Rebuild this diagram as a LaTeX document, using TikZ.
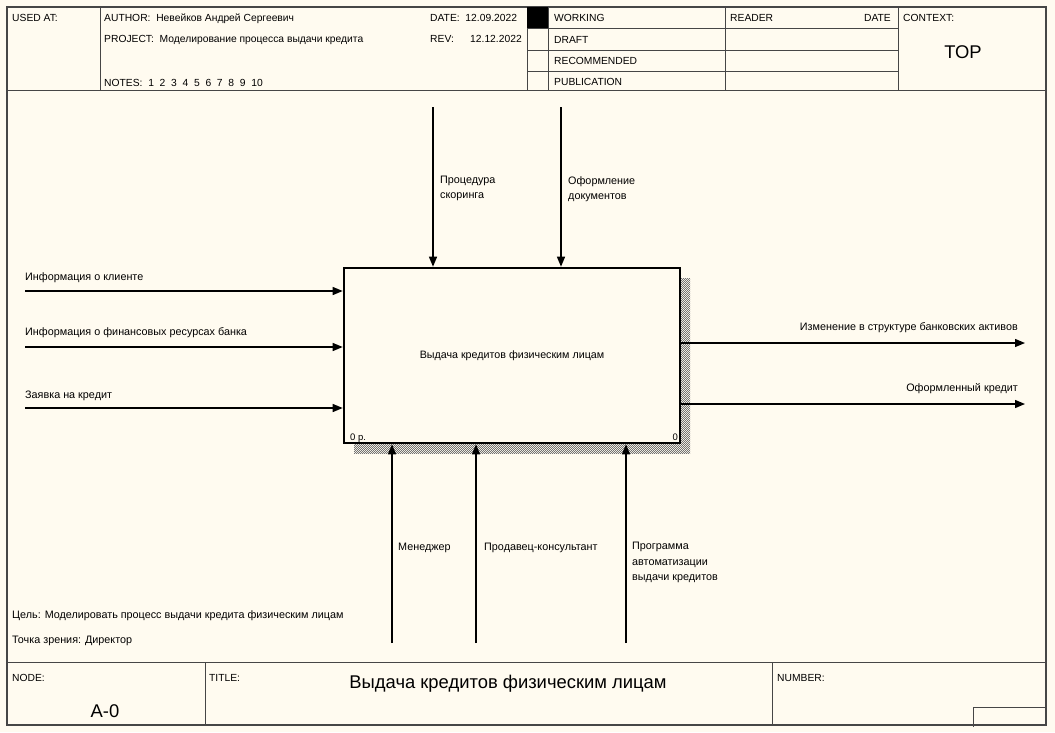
\documentclass[tikz,border=0pt]{standalone}
\usepackage{fontspec}
\setmainfont{Liberation Sans}
\usetikzlibrary{arrows.meta,patterns}
\definecolor{paper}{RGB}{255,251,240}
\definecolor{frame}{RGB}{70,70,70}
% fine checkerboard used for the box shadow
\pgfdeclarepatternformonly{checker}{\pgfqpoint{0pt}{0pt}}{\pgfqpoint{2.4pt}{2.4pt}}{\pgfqpoint{2.4pt}{2.4pt}}{%
  \pgfpathrectangle{\pgfqpoint{0pt}{0pt}}{\pgfqpoint{1.2pt}{1.2pt}}%
  \pgfpathrectangle{\pgfqpoint{1.2pt}{1.2pt}}{\pgfqpoint{1.2pt}{1.2pt}}%
  \pgfusepath{fill}}
\begin{document}
\begin{tikzpicture}[x=1pt,y=-1pt,
  lbl/.style={font=\fontsize{10.8}{12}\selectfont, inner sep=0pt},
  hdr/.style={font=\fontsize{10.3}{12}\selectfont, inner sep=0pt, anchor=base west},
  big/.style={font=\fontsize{18.4}{20}\selectfont, inner sep=0pt},
  rule/.style={draw=frame, line width=1pt},
  flow/.style={line width=1.3pt, -{Triangle[length=10pt,width=8pt]}},
  fnbox/.style={draw=black, line width=2.6pt, fill=paper, minimum width=336pt,
    minimum height=175pt, inner sep=0pt, font=\fontsize{10.7}{12}\selectfont}]
\useasboundingbox (0,0) rectangle (1055,732);
\fill[paper] (0,0) rectangle (1055,732);

% outer frame and form layout
\draw[draw=frame, line width=1.6pt] (7,7) rectangle (1046,725);
\draw[rule] (7,90) -- (1046,90);
\draw[rule] (100,7) -- (100,90);
\draw[rule] (527,7) -- (527,90);
\draw[rule] (548,7) -- (548,90);
\draw[rule] (725,7) -- (725,90);
\draw[rule] (898,7) -- (898,90);
\draw[rule] (527,28) -- (898,28);
\draw[rule] (527,50) -- (898,50);
\draw[rule] (527,71) -- (898,71);
\fill[black] (527,7) rectangle (548,28);

\draw[rule] (7,662) -- (1046,662);
\draw[rule] (205,662) -- (205,725);
\draw[rule] (772,662) -- (772,725);
\draw[rule] (973,727) -- (973,707) -- (1046,707);

% header texts
\node[hdr] (usedat) at (12,21) {USED AT:};
\node[hdr] (author) at (104,21) {AUTHOR:\ \ Невейков Андрей Сергеевич};
\node[hdr] (project) at (104,42) {PROJECT:\ \ Моделирование процесса выдачи кредита};
\node[hdr] (notes) at (104,86) {NOTES:\ \ 1\ \ 2\ \ 3\ \ 4\ \ 5\ \ 6\ \ 7\ \ 8\ \ 9\ \ 10};
\node[hdr] (date) at (430,21) {DATE:\ \ 12.09.2022};
\node[hdr] (rev) at (430,42) {REV:};
\node[hdr] (revdate) at (470,42) {12.12.2022};
\node[hdr] (working) at (554,21) {WORKING};
\node[hdr] (draft) at (554,43) {DRAFT};
\node[hdr] (recommended) at (554,64) {RECOMMENDED};
\node[hdr] (publication) at (554,85) {PUBLICATION};
\node[hdr] (reader) at (730,21) {READER};
\node[hdr, anchor=base east] (rdate) at (891,21) {DATE};
\node[hdr] (context) at (903,21) {CONTEXT:};
\node[big] (top) at (963,52) {TOP};

% footer texts
\node[hdr] (nodelbl) at (12,681) {NODE:};
\node[big] (nodeid) at (105,711) {A-0};
\node[hdr] (titlelbl) at (209,681) {TITLE:};
\node[big] (title) at (508,684) {Выдача кредитов физическим лицам};
\node[hdr] (numberlbl) at (777,681) {NUMBER:};

\node[lbl, anchor=west] (goal) at (12,616) {Цель: Моделировать процесс выдачи кредита физическим лицам};
\node[lbl, anchor=west] (view) at (12,641) {Точка зрения: Директор};

% activity box with hatched shadow
\fill[pattern=checker, pattern color=black!55] (354,278) rectangle (690,453);
\node[fnbox] (fn) at (512,355.5) {Выдача кредитов физическим лицам};
\node[lbl, font=\fontsize{9.5}{10}\selectfont, anchor=base west] (cost) at (350,440) {0 р.};
\node[lbl, font=\fontsize{9.5}{10}\selectfont, anchor=base east] (num) at (678,440) {0};

% inputs
\coordinate (in1) at (25,291);
\coordinate (in2) at (25,347);
\coordinate (in3) at (25,408);
\draw[flow] (in1) -- (in1 -| fn.west);
\draw[flow] (in2) -- (in2 -| fn.west);
\draw[flow] (in3) -- (in3 -| fn.west);
\node[lbl, anchor=west] (in1l) at (25,278) {Информация о клиенте};
\node[lbl, anchor=west] (in2l) at (25,333) {Информация о финансовых ресурсах банка};
\node[lbl, anchor=west] (in3l) at (25,396) {Заявка на кредит};

% controls
\coordinate (c1) at (433,107);
\coordinate (c2) at (561,107);
\draw[flow] (c1) -- (c1 |- fn.north);
\draw[flow] (c2) -- (c2 |- fn.north);
\node[lbl, anchor=north west, align=left, font=\fontsize{10.8}{15}\selectfont] (c1l) at (440,176) {Процедура\\скоринга};
\node[lbl, anchor=north west, align=left, font=\fontsize{10.8}{15}\selectfont] (c2l) at (568,176) {Оформление\\документов};

% outputs
\coordinate (o1) at (1025,343);
\coordinate (o2) at (1025,404);
\draw[flow] (o1 -| fn.east) -- (o1);
\draw[flow] (o2 -| fn.east) -- (o2);
\node[lbl, anchor=east] (o1l) at (1018,328) {Изменение в структуре банковских активов};
\node[lbl, anchor=east] (o2l) at (1018,389) {Оформленный кредит};

% mechanisms
\coordinate (m1) at (392,643);
\coordinate (m2) at (476,643);
\coordinate (m3) at (626,643);
\draw[flow] (m1) -- (m1 |- fn.south);
\draw[flow] (m2) -- (m2 |- fn.south);
\draw[flow] (m3) -- (m3 |- fn.south);
\node[lbl, anchor=west] (m1l) at (398,548) {Менеджер};
\node[lbl, anchor=west] (m2l) at (484,548) {Продавец-консультант};
\node[lbl, anchor=north west, align=left, font=\fontsize{10.8}{15.5}\selectfont] (m3l) at (632,542) {Программа\\автоматизации\\выдачи кредитов};
\end{tikzpicture}
\end{document}
